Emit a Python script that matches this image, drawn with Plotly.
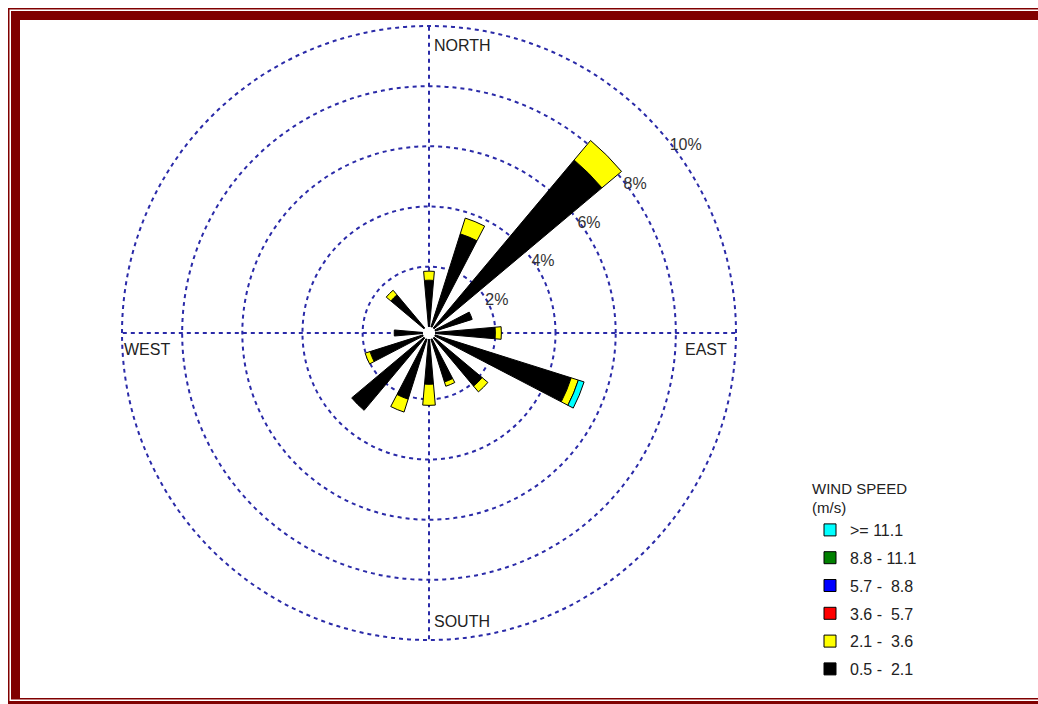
import plotly.graph_objects as go

W, H = 1038, 704

# ---------------- data ----------------
directions = ["N", "NNE", "NE", "ENE", "E", "ESE", "SE", "SSE",
              "S", "SSW", "SW", "WSW", "W", "WNW", "NW", "NNW"]
dir_deg = [0, 22.5, 45, 67.5, 90, 112.5, 135, 157.5,
           180, 202.5, 225, 247.5, 270, 292.5, 315, 337.5]

speed_labels = ["0.5 -\u00a0 2.1", "2.1 -\u00a0 3.6", "3.6 -\u00a0 5.7",
                "5.7 -\u00a0 8.8", "8.8 - 11.1", ">= 11.1"]
speed_colors = ["#000000", "#ffff00", "#ff0000", "#0000ff", "#008000", "#00ffff"]

# frequency (%) per direction, per speed class
s_05_21 = [1.55, 3.25, 7.3, 1.3, 2.0, 4.75, 2.1, 1.5, 1.5, 2.1, 3.15, 1.85, 0.95, 0, 1.45, 0]
s_21_36 = [0.3, 0.55, 0.85, 0, 0.2, 0.25, 0.25, 0.15, 0.7, 0.45, 0, 0.17, 0, 0, 0.2, 0]
s_36_57 = [0] * 16
s_57_88 = [0] * 16
s_88_111 = [0] * 16
s_ge_111 = [0, 0, 0, 0, 0, 0.2, 0, 0, 0, 0, 0, 0, 0, 0, 0, 0]
series = [s_05_21, s_21_36, s_36_57, s_57_88, s_88_111, s_ge_111]

ring_vals = [2, 4, 6, 8, 10]
ring_text = ["2%", "4%", "6%", "8%", "10%"]
compass_labels = ["NORTH", "EAST", "SOUTH", "WEST"]

# ---------------- figure ----------------
fig = go.Figure()
n = len(series)
for i, (vals, lab, col) in enumerate(zip(series, speed_labels, speed_colors)):
    fig.add_trace(go.Barpolar(
        r=vals, theta=dir_deg, width=[10] * 16, name=lab,
        legendgroup=lab, legendrank=n - i,
        marker=dict(color=col, line=dict(color="#000000", width=1)),
        hovertext=directions,
    ))

def fx(x):
    return x / W

def fy(y):
    return 1 - y / H

cx, cy, R = 429, 333, 310
grid_col = "#2a2aa8"

fig.update_layout(
    width=W, height=H,
    margin=dict(l=0, r=0, t=0, b=0),
    paper_bgcolor="#ffffff",
    font=dict(family="Liberation Sans, Arial, sans-serif", color="#222222"),
    polar=dict(
        domain=dict(x=[fx(cx - R), fx(cx + R)], y=[fy(cy + R), fy(cy - R)]),
        bgcolor="#ffffff",
        hole=0.02,
        barmode="stack",
        angularaxis=dict(
            rotation=90, direction="clockwise",
            tickvals=[0, 90, 180, 270], showticklabels=False, ticks="",
            showline=False, showgrid=True,
            gridcolor=grid_col, gridwidth=1.5, griddash="4px,4px",
        ),
        radialaxis=dict(
            range=[0, 10.1], angle=40, side="clockwise",
            tickvals=ring_vals, ticktext=ring_text, ticks="",
            showline=False, showgrid=True,
            gridcolor=grid_col, gridwidth=1.5, griddash="4px,4px",
            tickfont=dict(size=16, color="#333333"),
            tickangle=40,
        ),
    ),
    legend=dict(
        x=fx(810), y=fy(474), xanchor="left", yanchor="top",
        traceorder="grouped", tracegroupgap=4,
        title=dict(text="WIND SPEED<br>(m/s)", font=dict(size=15, color="#222222")),
        font=dict(size=16, color="#222222"),
        bgcolor="rgba(0,0,0,0)",
    ),
    showlegend=True,
)

# compass labels (inside the outer ring)
ann_pos = [
    (cx + 3, cy - R + 22, "left"),
    (cx + R - 10, cy + 16, "right"),
    (cx + 3, cy + R - 22, "left"),
    (cx - R + 3, cy + 16, "left"),
]
for lab, (x, y, anc) in zip(compass_labels, ann_pos):
    fig.add_annotation(x=fx(x), y=fy(y), xref="paper", yref="paper",
                       text=lab, showarrow=False, xanchor=anc, yanchor="middle",
                       font=dict(size=16, color="#222222"))

# maroon frame
maroon = "#800000"
frame = [
    (8, 8, 1038, 9.5),      # outer top thin
    (8, 8, 9.5, 704),       # outer left thin
    (11, 11, 1038, 20),     # inner top thick
    (11, 11, 20, 699),      # inner left thick
    (11, 698, 1038, 699.5), # inner bottom thin
    (8, 701, 1038, 704),    # outer bottom
]
for x0, y0, x1, y1 in frame:
    fig.add_shape(type="rect", xref="paper", yref="paper",
                  x0=fx(x0), x1=fx(x1), y0=fy(y1), y1=fy(y0),
                  fillcolor=maroon, line=dict(width=0), layer="above")

fig.write_html("out.html")
